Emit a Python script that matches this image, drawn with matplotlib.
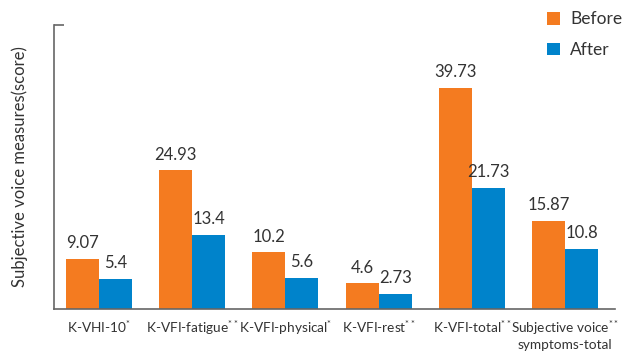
import matplotlib
matplotlib.use("Agg")
import matplotlib.pyplot as plt
import numpy as np

plt.rcParams['font.family'] = ['Lato', 'DejaVu Sans']
plt.rcParams['mathtext.fontset'] = 'custom'
plt.rcParams['mathtext.rm'] = 'Lato'
plt.rcParams['mathtext.it'] = 'Lato:italic'
plt.rcParams['mathtext.bf'] = 'Lato:bold'

categories = ["K-VHI-10$^{*}$", "K-VFI-fatigue$^{**}$", "K-VFI-physical$^{*}$",
              "K-VFI-rest$^{**}$", "K-VFI-total$^{**}$",
              "Subjective voice$^{**}$\nsymptoms-total"]
before = [9.07, 24.93, 10.2, 4.6, 39.73, 15.87]
after = [5.4, 13.4, 5.6, 2.73, 21.73, 10.8]
before_lbl = ["9.07", "24.93", "10.2", "4.6", "39.73", "15.87"]
after_lbl = ["5.4", "13.4", "5.6", "2.73", "21.73", "10.8"]

orange = "#f47b20"
blue = "#0083cb"
txt = "#333333"

fig = plt.figure(figsize=(6.25, 3.52), dpi=100)
ax = fig.add_axes([0.0864, 0.122, 0.8976, 0.807])

x = np.arange(len(categories))
w = 0.354
b1 = ax.bar(x - w/2, before, w, color=orange, label="Before", zorder=1)
b2 = ax.bar(x + w/2, after, w, color=blue, label="After", zorder=1)

for xi, v, s in zip(x, before, before_lbl):
    ax.text(xi - w/2, v + 1.4, s, ha="center", va="bottom", fontsize=12, color=txt)
for xi, v, s in zip(x, after, after_lbl):
    ax.text(xi + w/2, v + 1.4, s, ha="center", va="bottom", fontsize=12, color=txt)

ax.set_xlim(-0.483, 5.536)
ax.set_ylim(0, 51.1)
ax.set_xticks(x)
ax.set_xticklabels(categories, fontsize=9.8, color=txt, linespacing=1.2, va="top")
ax.tick_params(axis="x", length=0, pad=7)
ax.set_yticks([51.1])
ax.set_yticklabels([""])
ax.tick_params(axis="y", direction="in", length=7, color="#666666", width=1.2)
ax.set_ylabel("Subjective voice measures(score)", fontsize=12, color=txt, labelpad=15)

for s in ["top", "right"]:
    ax.spines[s].set_visible(False)
for s in ["left", "bottom"]:
    ax.spines[s].set_color("#666666")
    ax.spines[s].set_linewidth(1.2)
    ax.spines[s].set_zorder(3)

leg = fig.legend(handles=[b1, b2], loc="upper left", bbox_to_anchor=(0.85, 1.012),
                 frameon=False, fontsize=12.5, handlelength=0.75, handleheight=0.75,
                 handletextpad=0.6, labelspacing=0.85, labelcolor=txt)

fig.savefig("out.png", dpi=100)
